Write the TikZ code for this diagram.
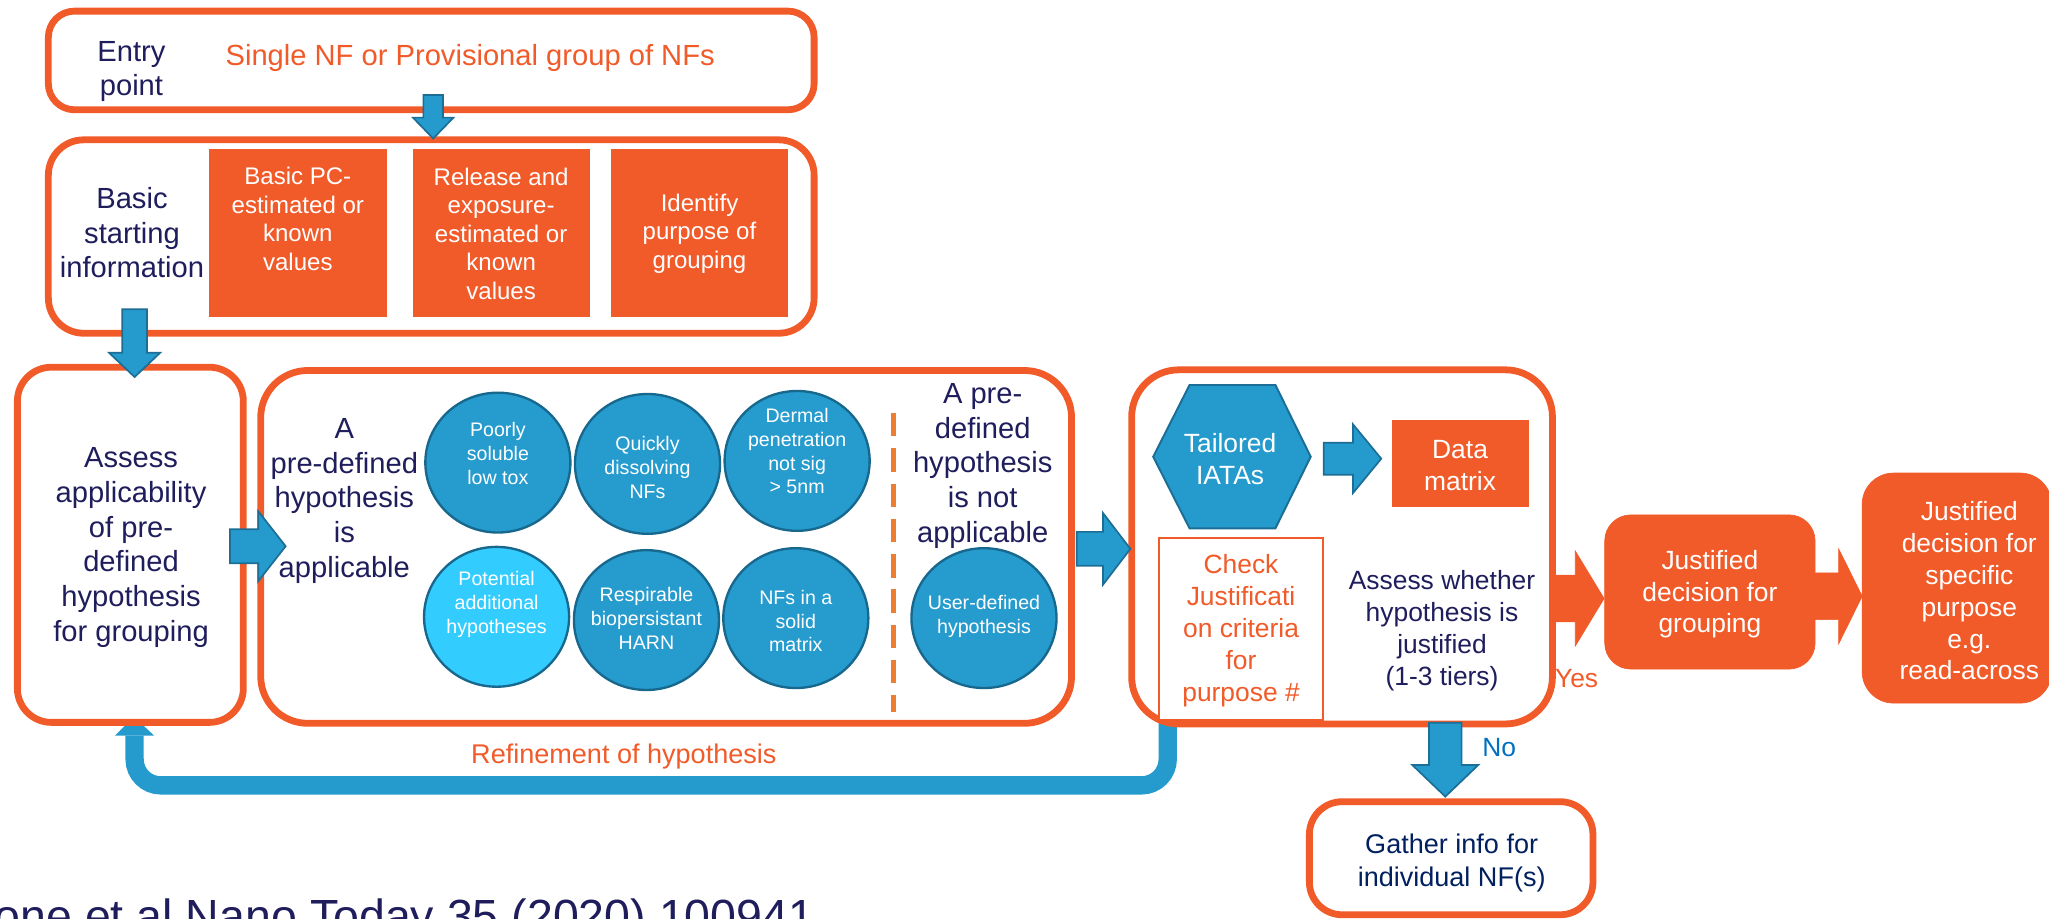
\documentclass[tikz,border=0pt]{standalone}
\usepackage{fontspec}
\setmainfont{Liberation Sans}
\usetikzlibrary{shapes.geometric,calc}

\definecolor{orng}{RGB}{241,90,41}
\definecolor{blueF}{RGB}{36,154,205}
\definecolor{blueD}{RGB}{28,110,150}
\definecolor{bubF}{RGB}{37,155,206}
\definecolor{bubD}{RGB}{24,104,142}
\definecolor{bubL}{RGB}{51,204,255}
\definecolor{navy}{RGB}{31,29,92}
\definecolor{navyB}{RGB}{0,32,96}
\definecolor{noblue}{RGB}{0,112,192}
\definecolor{dashor}{RGB}{237,125,49}

% text sizes
\newcommand\sizeL{\fontsize{22.3pt}{26.5pt}\selectfont}
\newcommand\sizeR{\fontsize{18.4pt}{21.8pt}\selectfont}
\newcommand\sizeB{\fontsize{15pt}{18.2pt}\selectfont}
\newcommand\sizeM{\fontsize{20.2pt}{24.4pt}\selectfont}
\newcommand\sizeG{\fontsize{20.7pt}{25pt}\selectfont}
\newcommand\sizeC{\fontsize{35.6pt}{40pt}\selectfont}

% block arrows: tail, tip, half shaft, half head, head length, style
\newcommand\downblock[6]{%
  \draw[#6] ([xshift=-#3pt]#1) -- ([xshift=-#3pt,yshift=#5pt]#2)
    -- ([xshift=-#4pt,yshift=#5pt]#2) -- (#2) -- ([xshift=#4pt,yshift=#5pt]#2)
    -- ([xshift=#3pt,yshift=#5pt]#2) -- ([xshift=#3pt]#1) -- cycle;}
\newcommand\rightblock[6]{%
  \draw[#6] ([yshift=#3pt]#1) -- ([xshift=-#5pt,yshift=#3pt]#2)
    -- ([xshift=-#5pt,yshift=#4pt]#2) -- (#2) -- ([xshift=-#5pt,yshift=-#4pt]#2)
    -- ([xshift=-#5pt,yshift=-#3pt]#2) -- ([yshift=-#3pt]#1) -- cycle;}

\tikzset{
  obox/.style={draw=orng, line width=5.2pt, fill=white, rounded corners=#1, inner sep=0pt, outer sep=0pt},
  obox/.default=25pt,
  ofill/.style={fill=orng, draw=orng, line width=0.5pt, rounded corners=#1, inner sep=0pt},
  ofill/.default=0pt,
  bubble/.style={ellipse, draw=bubD, line width=1.8pt, fill=bubF, inner sep=0pt, minimum width=111pt, minimum height=107pt},
  blk/.style={fill=blueF, draw=blueD, line width=1.3pt, line join=miter},
  oblk/.style={fill=orng, draw=orng, line width=0.5pt, line join=miter},
  lbl/.style={align=center, inner sep=0pt, outer sep=0pt},
  loopline/.style={draw=blueF, line width=14pt, rounded corners=20pt},
  dashline/.style={draw=dashor, line width=4pt, dash pattern=on 18pt off 9pt}
}

\begin{document}
\begin{tikzpicture}[x=1pt,y=-1pt]
\useasboundingbox (0,0) rectangle (1568,702.5);
\clip (0,0) rectangle (1568,702.5);

% refinement loop back to the assessment step
\coordinate (loopstart) at (893.6,545);
\coordinate (loopcorner) at (103,601);
\coordinate (loopend) at (103,563);
\coordinate (looptip) at (102.5,548.4);
\draw[loopline] (loopstart) |- (loopcorner) -- (loopend);
\fill[blueF] ([xshift=-15pt]loopend) -- (looptip) -- ([xshift=15pt]loopend) -- cycle;
\node[lbl, text=orng, font=\sizeG] (refT) at (477.4,579) {Refinement of hypothesis};

% "Yes" branch arrow (tucked under the box border)
\coordinate (yess) at (1188,458);
\coordinate (yese) at (1227.5,458);
\rightblock{yess}{yese}{17.85}{36.3}{22}{oblk}
\node[lbl, text=orng, font=\sizeM] (yesT) at (1206.5,519) {Yes};

% frames
\node[obox=20pt, minimum width=586pt, minimum height=75.5pt] (entry) at (330,46.25) {};
\node[obox=27pt, minimum width=586pt, minimum height=148pt] (basic) at (330,181) {};
\node[obox=26pt, minimum width=172.9pt, minimum height=271.8pt] (assess) at (99.75,416.9) {};
\node[obox=36pt, minimum width=620.5pt, minimum height=270pt] (hyp) at (509.75,418.5) {};
\node[obox=36pt, minimum width=322pt, minimum height=271pt] (tailored) at (1027,418.5) {};
\node[obox=25pt, minimum width=217pt, minimum height=86.5pt] (gather) at (1110.5,656.75) {};

% filled orange boxes
\node[ofill, minimum width=134.8pt, minimum height=128pt] (pc) at (227.9,178) {};
\node[ofill, minimum width=135pt, minimum height=128pt] (rel) at (383.5,178) {};
\node[ofill, minimum width=134.6pt, minimum height=128pt] (purp) at (535.3,178) {};
\node[ofill, minimum width=104.2pt, minimum height=65.7pt] (data) at (1117.6,354.85) {};
\node[ofill=20pt, minimum width=161pt, minimum height=118pt] (group) at (1308.5,453) {};
\node[ofill=24pt, minimum width=145pt, minimum height=176pt] (spec) at (1497.5,450) {};

% hypothesis bubbles
\node[bubble] (poorly) at (381,354) {};
\node[bubble] (quick) at (495.5,355) {};
\node[bubble] (derm) at (610,352.7) {};
\node[bubble, fill=bubL] (pot) at (380,472) {};
\node[bubble] (resp) at (494.7,474.5) {};
\node[bubble] (solid) at (609,473) {};
\node[bubble] (user) at (753,473) {};
\draw[dashline] (684,316) -- (684,545);

% IATA hexagon and check box
\draw[fill=blueF, draw=blueD, line width=1.5pt, line join=miter]
  (882.5,349.5) -- (910.3,294.6) -- (976,294.6) -- (1003,349.5) -- (976,404.3) -- (910.3,404.3) -- cycle;
\node[draw=orng, line width=1.4pt, fill=white, inner sep=0pt, minimum width=125.3pt, minimum height=139pt] (check) at (949.65,481.5) {};

% block arrows
\coordinate (a1s) at (331.5,72.7);   \coordinate (a1e) at (331.5,106);
\downblock{a1s}{a1e}{7.5}{15.5}{16}{blk}
\coordinate (a2s) at (103,236.7);    \coordinate (a2e) at (103,288.5);
\downblock{a2s}{a2e}{9.5}{19.5}{18.5}{blk}
\coordinate (a3s) at (176,418);      \coordinate (a3e) at (218.6,418);
\rightblock{a3s}{a3e}{13}{26.8}{21}{blk}
\coordinate (a4s) at (824,420);      \coordinate (a4e) at (865,420);
\rightblock{a4s}{a4e}{13}{27.5}{21}{blk}
\coordinate (a5s) at (1013,351);     \coordinate (a5e) at (1057,351);
\rightblock{a5s}{a5e}{12.25}{26.25}{21.6}{blk}
\coordinate (a6s) at (1385,456.3);   \coordinate (a6e) at (1425,456.3);
\rightblock{a6s}{a6e}{17.85}{36.35}{18}{oblk}
\coordinate (nos) at (1106,553);     \coordinate (noe) at (1106,609.6);
\downblock{nos}{noe}{12.5}{25.25}{24.2}{blk}

% labels
\node[lbl, text=navy, font=\sizeL] (entryT) at (100.6,54.8) {Entry\\point};
\node[lbl, text=orng, font=\sizeL] (nfsT) at (359.8,44.6) {Single NF or Provisional group of NFs};
\node[lbl, text=navy, font=\sizeL] (basicT) at (101,178) {Basic\\starting\\information};
\node[lbl, text=white, font=\sizeR] (pcT) at (227.9,167.5) {Basic PC-\\estimated or\\known\\values};
\node[lbl, text=white, font=\sizeR] (relT) at (383.5,178.8) {Release and\\exposure-\\estimated or\\known\\values};
\node[lbl, text=white, font=\sizeR] (purpT) at (535.3,178.8) {Identify\\purpose of\\grouping};
\node[lbl, text=navy, font=\sizeL] (assessT) at (100.3,419) {Assess\\applicability\\of pre-\\defined\\hypothesis\\for grouping};
\node[lbl, text=navy, font=\sizeL] (appT) at (263.5,383.2) {A\\pre-defined\\hypothesis\\is\\applicable};
\node[lbl, text=navy, font=\sizeL] (notT) at (752,356.5) {A pre-\\defined\\hypothesis\\is not\\applicable};

\node[lbl, text=white, font=\sizeB] (poorlyT) at (381,347) {Poorly\\soluble\\low tox};
\node[lbl, text=white, font=\sizeB] (quickT) at (495.5,357.7) {Quickly\\dissolving\\NFs};
\node[lbl, text=white, font=\sizeB] (dermT) at (610,345.3) {Dermal\\penetration\\not sig\\> 5nm};
\node[lbl, text=white, font=\sizeB] (potT) at (380,462.4) {Potential\\additional\\hypotheses};
\node[lbl, text=white, font=\sizeB] (respT) at (494.7,473.2) {Respirable\\biopersistant\\HARN};
\node[lbl, text=white, font=\sizeB] (solidT) at (609,475.3) {NFs in a\\solid\\matrix};
\node[lbl, text=white, font=\sizeB] (userT) at (753,472) {User-defined\\hypothesis};

\node[lbl, text=white, font=\sizeM] (iatasT) at (941.3,351.25) {Tailored\\IATAs};
\node[lbl, text=white, font=\sizeM] (dataT) at (1117.3,356.5) {Data\\matrix};
\node[lbl, text=orng, font=\sizeM] (checkT) at (949.7,482.7) {Check\\Justificati\\on criteria\\for\\purpose \#};
\node[lbl, text=navy, font=\sizeM] (whetherT) at (1103.5,482.5) {Assess whether\\hypothesis is\\justified\\(1-3 tiers)};
\node[lbl, text=white, font=\sizeM] (groupT) at (1308.5,454.7) {Justified\\decision for\\grouping};
\node[lbl, text=white, font=\sizeM] (specT) at (1507,452.1) {Justified\\decision for\\specific\\purpose\\e.g.\\read-across};
\node[lbl, text=noblue, font=\sizeM] (noT) at (1147.2,572) {No};
\node[lbl, text=navyB, font=\sizeG] (gatherT) at (1110.9,660.5) {Gather info for\\individual NF(s)};

% reference line at the foot
\node[anchor=base west, inner sep=0pt, text=navy, font=\sizeC] (cite) at (-38,713.5) {Stone et al Nano Today 35 (2020) 100941};
\end{tikzpicture}
\end{document}
